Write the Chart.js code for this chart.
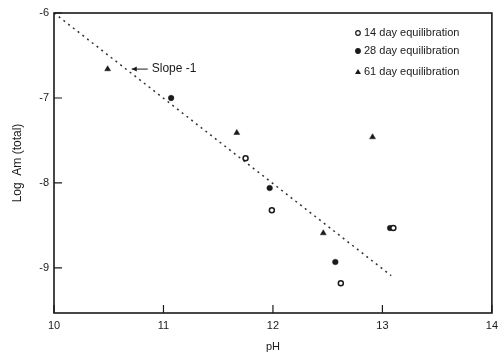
<!DOCTYPE html>
<html>
<head>
<meta charset="utf-8">
<script src="https://cdn.jsdelivr.net/npm/chart.js@4"></script>
<style>
  html, body { margin: 0; padding: 0; background: #fff; }
  #wrap { width: 504px; height: 354px; }
</style>
</head>
<body>
<div id="wrap"><canvas id="chart"></canvas></div>
<script>
// values: [pH, log Am]
const day14 = [[11.75, -7.71], [11.99, -8.32], [12.62, -9.18], [13.10, -8.53]];
const day28 = [[11.07, -7.0], [11.97, -8.06], [12.57, -8.93], [13.07, -8.53]];
const day61 = [[10.49, -6.66], [11.67, -7.41], [12.46, -8.59], [12.91, -7.46]];
const slopeLine = [[10, -6], [13.08, -9.09]];

const seriesNames = ['14 day equilibration', '28 day equilibration', '61 day equilibration'];
const xTicks = [10, 11, 12, 13, 14];
const yTicks = [-9, -8, -7, -6];
const slopeLabel = 'Slope -1';
const slopeLabelAt = [10.71, -6.66];

const toXY = (pairs) => pairs.map(([x, y]) => ({ x, y }));
const ink = '#1a1a1a';

Chart.defaults.font.family = "'Liberation Sans', Arial, sans-serif";
Chart.defaults.color = ink;

const decorations = {
  id: 'decorations',
  afterDraw(chart) {
    const { ctx, chartArea: area, scales: { x, y } } = chart;
    ctx.save();
    ctx.strokeStyle = ink;
    ctx.lineWidth = 1.6;
    ctx.strokeRect(area.left, area.top, area.right - area.left, area.bottom - area.top);

    // inner tick marks
    ctx.lineWidth = 1.2;
    ctx.beginPath();
    xTicks.forEach((v) => {
      const px = x.getPixelForValue(v);
      ctx.moveTo(px, area.bottom);
      ctx.lineTo(px, area.bottom - 8);
    });
    yTicks.forEach((v) => {
      const py = y.getPixelForValue(v);
      ctx.moveTo(area.left, py);
      ctx.lineTo(area.left + 8, py);
    });
    ctx.stroke();

    // slope annotation with arrow
    const ax = x.getPixelForValue(slopeLabelAt[0]);
    const ay = y.getPixelForValue(slopeLabelAt[1]);
    ctx.lineWidth = 1;
    ctx.beginPath();
    ctx.moveTo(ax, ay);
    ctx.lineTo(ax + 16, ay);
    ctx.stroke();
    ctx.beginPath();
    ctx.moveTo(ax, ay);
    ctx.lineTo(ax + 5, ay - 2.5);
    ctx.lineTo(ax + 5, ay + 2.5);
    ctx.closePath();
    ctx.fillStyle = ink;
    ctx.fill();
    ctx.font = "12px 'Liberation Sans', Arial, sans-serif";
    ctx.textBaseline = 'middle';
    ctx.textAlign = 'left';
    ctx.fillText(slopeLabel, ax + 20, ay);

    // legend in the upper right
    ctx.font = "11px 'Liberation Sans', Arial, sans-serif";
    const lx = 358;
    const rows = [33, 51, 72];
    chart.data.datasets.slice(0, 3).forEach((ds, i) => {
      const ly = rows[i];
      ctx.lineWidth = 1.2;
      ctx.strokeStyle = ink;
      ctx.fillStyle = ds.backgroundColor;
      if (ds.pointStyle === 'triangle') {
        ctx.beginPath();
        ctx.moveTo(lx, ly - 3);
        ctx.lineTo(lx + 3, ly + 2);
        ctx.lineTo(lx - 3, ly + 2);
        ctx.closePath();
        ctx.fill();
      } else {
        ctx.beginPath();
        ctx.arc(lx, ly, 2.3, 0, Math.PI * 2);
        ctx.fill();
        ctx.stroke();
      }
      ctx.fillStyle = ink;
      ctx.fillText(ds.label, lx + 6, ly);
    });
    ctx.restore();
  }
};

new Chart(document.getElementById('chart'), {
  type: 'scatter',
  data: {
    datasets: [
      {
        label: seriesNames[0],
        data: toXY(day14),
        pointStyle: 'circle',
        pointRadius: 2.5,
        backgroundColor: '#ffffff',
        borderColor: ink,
        borderWidth: 1.5
      },
      {
        label: seriesNames[1],
        data: toXY(day28),
        pointStyle: 'circle',
        pointRadius: 2.8,
        backgroundColor: ink,
        borderColor: ink,
        borderWidth: 0.5
      },
      {
        label: seriesNames[2],
        data: toXY(day61),
        pointStyle: 'triangle',
        pointRadius: 3.4,
        backgroundColor: ink,
        borderColor: ink,
        borderWidth: 0.5
      },
      {
        type: 'line',
        label: 'slope',
        data: toXY(slopeLine),
        borderColor: '#333',
        borderWidth: 1.5,
        borderDash: [2, 4],
        pointRadius: 0,
        fill: false
      }
    ]
  },
  options: {
    responsive: true,
    maintainAspectRatio: false,
    animation: false,
    layout: { padding: { top: 13, right: 7, left: 0, bottom: 0 } },
    plugins: {
      legend: { display: false },
      tooltip: { enabled: false }
    },
    scales: {
      x: {
        type: 'linear',
        min: 10,
        max: 14,
        afterBuildTicks: (scale) => { scale.ticks = xTicks.map((value) => ({ value })); },
        afterFit: (scale) => { scale.height = 41; },
        grid: { display: false, drawTicks: false },
        border: { display: false },
        ticks: { padding: 6, font: { size: 11 }, color: ink },
        title: { display: true, text: 'pH', font: { size: 11 }, color: ink, padding: { top: 0, bottom: 0 } }
      },
      y: {
        type: 'linear',
        min: -9.53,
        max: -6,
        afterBuildTicks: (scale) => { scale.ticks = yTicks.map((value) => ({ value })); },
        afterFit: (scale) => { scale.width = 54; },
        grid: { display: false, drawTicks: false },
        border: { display: false },
        ticks: { padding: 5, font: { size: 11 }, color: ink },
        title: { display: true, text: 'Log  Am (total)', font: { size: 12 }, color: ink, padding: { top: 10, bottom: 0 } }
      }
    }
  },
  plugins: [decorations]
});
</script>
</body>
</html>
